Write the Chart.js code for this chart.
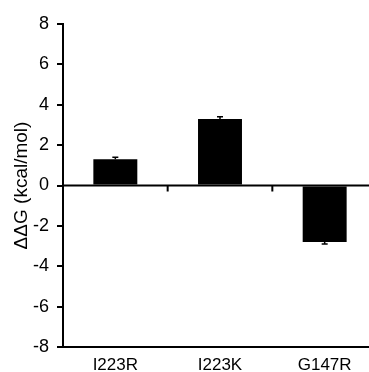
<!DOCTYPE html>
<html>
<head>
<meta charset="utf-8">
<script src="https://cdn.jsdelivr.net/npm/chart.js@4/dist/chart.umd.min.js"></script>
<style>
  html, body { margin: 0; padding: 0; background: #fff; overflow: hidden; }
  #wrap { width: 369px; height: 372px; overflow: hidden; }
  canvas { display: block; }
</style>
</head>
<body>
<div id="wrap"><canvas id="myChart" width="377" height="372"></canvas></div>
<script>
var mutants = ["I223R", "I223K", "G147R"];
var ddG = [1.3, 3.3, -2.8];
var ddGErr = [0.1, 0.1, 0.1];
var yTicks = [-8, -6, -4, -2, 0, 2, 4, 6, 8];

// zero line with small ticks between categories, plus one-sided error bars
var extras = {
    id: "extras",
    afterDatasetsDraw: function (chart) {
        var ctx = chart.ctx;
        var x = chart.scales.x;
        var y = chart.scales.y;
        var area = chart.chartArea;
        var y0 = y.getPixelForValue(0);
        ctx.save();
        ctx.strokeStyle = "#000";
        ctx.lineWidth = 2;
        ctx.beginPath();
        ctx.moveTo(area.left, y0);
        ctx.lineTo(area.right, y0);
        for (var i = 0; i < mutants.length - 1; i++) {
            var xb = (x.getPixelForValue(i) + x.getPixelForValue(i + 1)) / 2;
            ctx.moveTo(xb, y0);
            ctx.lineTo(xb, y0 + 6);
        }
        ctx.stroke();

        ctx.lineWidth = 1.5;
        var meta = chart.getDatasetMeta(0);
        meta.data.forEach(function (bar, i) {
            var v = ddG[i];
            var e = v >= 0 ? v + ddGErr[i] : v - ddGErr[i];
            var py = y.getPixelForValue(v);
            var pe = y.getPixelForValue(e);
            ctx.beginPath();
            ctx.moveTo(bar.x, py);
            ctx.lineTo(bar.x, pe);
            ctx.moveTo(bar.x - 3, pe);
            ctx.lineTo(bar.x + 3, pe);
            ctx.stroke();
        });
        ctx.restore();
    }
};

var ctx = document.getElementById("myChart");
new Chart(ctx, {
    type: "bar",
    data: {
        labels: mutants,
        datasets: [{
            data: ddG,
            backgroundColor: "#000",
            borderWidth: 0,
            categoryPercentage: 1,
            barPercentage: 0.42
        }]
    },
    options: {
        responsive: false,
        animation: false,
        layout: { padding: { top: 24, right: 0, left: 0, bottom: 0 } },
        plugins: {
            legend: { display: false },
            tooltip: { enabled: false }
        },
        scales: {
            x: {
                grid: { display: false },
                border: { color: "#000", width: 2 },
                ticks: {
                    color: "#000",
                    padding: 0,
                    font: { family: "'Liberation Sans', Arial", size: 17 }
                },
                afterFit: function (s) { s.height = 25; }
            },
            y: {
                min: -8,
                max: 8,
                afterBuildTicks: function (s) {
                    s.ticks = yTicks.map(function (v) { return { value: v }; });
                },
                grid: {
                    drawOnChartArea: false,
                    color: "#000",
                    lineWidth: 2,
                    tickLength: 6
                },
                border: { color: "#000", width: 2 },
                ticks: {
                    color: "#000",
                    padding: 8,
                    font: { family: "'Liberation Sans', Arial", size: 18 }
                },
                title: {
                    display: true,
                    text: "ΔΔG (kcal/mol)",
                    color: "#000",
                    padding: { top: 10, bottom: 0 },
                    font: { family: "'Liberation Sans', Arial", size: 19 }
                },
                afterFit: function (s) { s.width = 63; }
            }
        }
    },
    plugins: [extras]
});
</script>
</body>
</html>
